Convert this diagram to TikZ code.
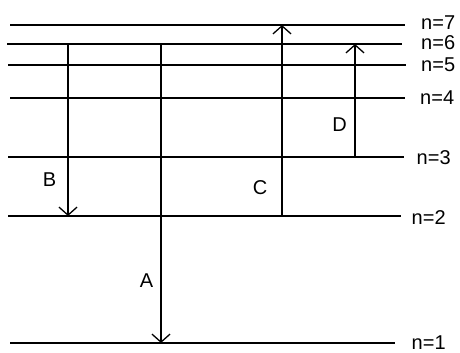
\documentclass[tikz,border=0pt]{standalone}
\usepackage{fontspec}
\setmainfont{Liberation Sans}
\usetikzlibrary{arrows.meta}
\begin{document}
\begin{tikzpicture}[x=1pt,y=-1pt,
  level/.style={line width=1.8pt},
  trans/.style={line width=1.5pt,-{Straight Barb[length=8pt,width=18pt,line width=1.3pt]}},
  lab/.style={font=\fontsize{20}{20}\selectfont,inner sep=0pt},
]
\useasboundingbox (0,0) rectangle (460,353);
% level end points
\coordinate (L7a) at (10,25);  \coordinate (L7b) at (405,25);
\coordinate (L6a) at (7,44);   \coordinate (L6b) at (402,44);
\coordinate (L5a) at (8,65);   \coordinate (L5b) at (406,65);
\coordinate (L4a) at (10,98);  \coordinate (L4b) at (405,98);
\coordinate (L3a) at (8,157);  \coordinate (L3b) at (404,157);
\coordinate (L2a) at (8,216);  \coordinate (L2b) at (401,216);
\coordinate (L1a) at (10,343); \coordinate (L1b) at (395,343);
\foreach \n in {7,6,5,4,3,2,1}{\draw[level] (L\n a) -- (L\n b);}
% level labels
\node[lab,anchor=west] (n7) at (421,22.5) {n=7};
\node[lab,anchor=west] (n6) at (421,43) {n=6};
\node[lab,anchor=west] (n5) at (421,64.5) {n=5};
\node[lab,anchor=west] (n4) at (420,97.5) {n=4};
\node[lab,anchor=west] (n3) at (416.5,157.5) {n=3};
\node[lab,anchor=west] (n2) at (411.5,217.5) {n=2};
\node[lab,anchor=west] (n1) at (411.5,343) {n=1};
% transition end points
\coordinate (B6) at (68,44);   \coordinate (B2) at (68,216);
\coordinate (A6) at (161,44);  \coordinate (A1) at (161,343);
\coordinate (C2) at (282,216); \coordinate (C7) at (282,25);
\coordinate (D3) at (355,157); \coordinate (D6) at (355,44);
\draw[trans] (B6) -- (B2);
\draw[trans] (A6) -- (A1);
\draw[trans] (C2) -- (C7);
\draw[trans] (D3) -- (D6);
% transition labels
\node[lab] (labB) at (49.5,179.5) {B};
\node[lab] (labA) at (146.5,280.5) {A};
\node[lab] (labC) at (260,188) {C};
\node[lab] (labD) at (339.5,125) {D};
\end{tikzpicture}
\end{document}
